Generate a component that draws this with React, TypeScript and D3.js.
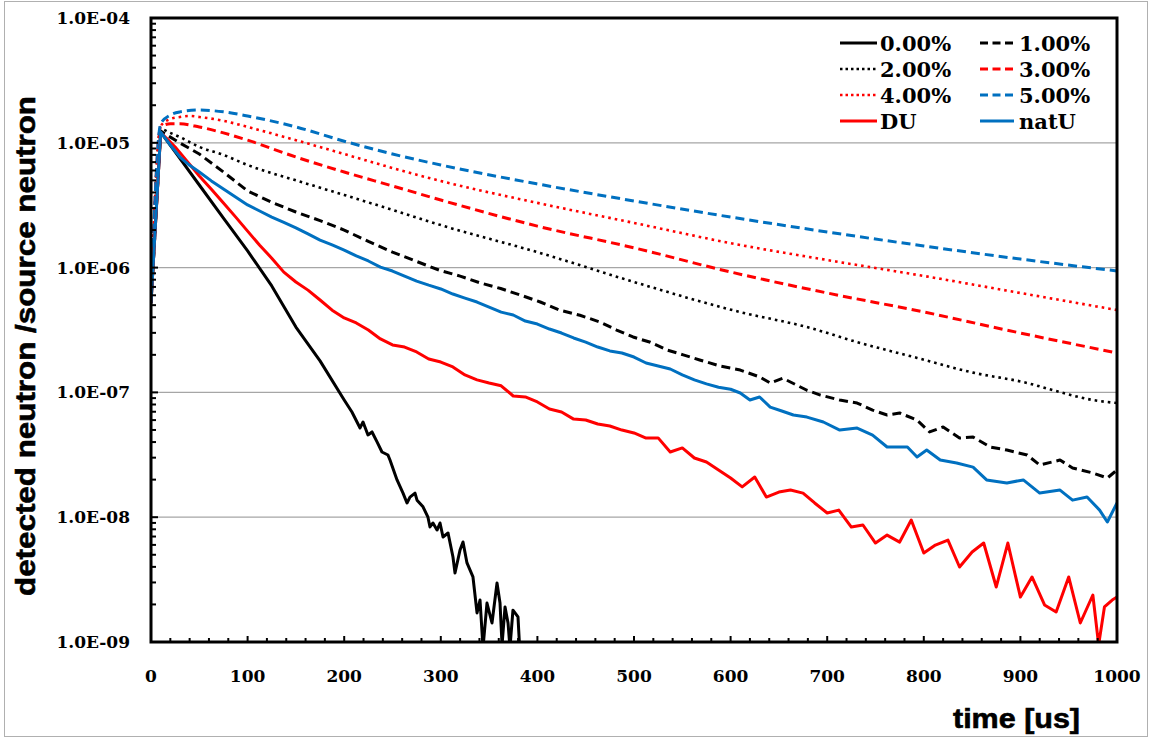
import React from 'react';
import * as d3 from 'd3';

const W = 1151;
const H = 738;
const PLOT = { left: 151, right: 1117, top: 18, bottom: 642 };

const yTickValues = [1e-9, 1e-8, 1e-7, 1e-6, 1e-5, 1e-4];
const yTickLabels = ['1.0E-09', '1.0E-08', '1.0E-07', '1.0E-06', '1.0E-05', '1.0E-04'];
const xTickValues = [0, 100, 200, 300, 400, 500, 600, 700, 800, 900, 1000];
const xTickLabels = ['0', '100', '200', '300', '400', '500', '600', '700', '800', '900', '1000'];

// 0.00%
const p0T = [0, 10, 25, 50, 75, 100, 125, 150, 175, 200, 208, 216.4, 219.5, 224.6, 228.8, 234, 239.1, 245.3, 247.4, 254.7, 260.9, 265, 268.1, 273.3, 275.4, 281.6, 286.7, 288.8, 291.9, 296.1, 299.2, 302.3, 307.5, 312.6, 314.7, 319.9, 323, 327.1, 333.3, 337.5, 340.6, 343.7, 347.8, 353, 358.2, 361.3, 363.4, 366.5, 369.6, 371.6, 374.7, 379.9, 382];
const p0V = [5.2e-7, 1.22e-5, 8.44e-6, 4.59e-6, 2.49e-6, 1.36e-6, 7.13e-7, 3.34e-7, 1.79e-7, 8.69e-8, 6.97e-8, 5.19e-8, 5.79e-8, 4.56e-8, 4.82e-8, 4.01e-8, 3.33e-8, 3.15e-8, 2.87e-8, 1.99e-8, 1.56e-8, 1.30e-8, 1.45e-8, 1.56e-8, 1.37e-8, 1.21e-8, 1.00e-8, 8.35e-9, 8.99e-9, 7.89e-9, 8.99e-9, 6.94e-9, 7.47e-9, 4.80e-9, 3.57e-9, 5.46e-9, 6.33e-9, 4.30e-9, 3.32e-9, 1.71e-9, 2.17e-9, 9e-10, 2.05e-9, 1.42e-9, 2.97e-9, 2.05e-9, 9.5e-10, 1.91e-9, 1.42e-9, 9e-10, 1.80e-9, 1.59e-9, 8e-10];

// 1.00%
const p1T = [0, 10, 20, 30, 50, 75, 100, 125, 150, 175, 200, 225, 250, 275, 299, 320, 341, 362, 382, 403, 423, 444, 465, 482, 499, 517, 534, 551, 568, 590, 610, 630, 641, 654, 679, 693, 713, 731, 747, 762, 775, 793, 806, 820, 837, 851, 869, 886, 907, 920, 941, 954, 975, 990, 1000];
const p1V = [5.2e-7, 1.24e-5, 1.11e-5, 9.96e-6, 8.13e-6, 5.83e-6, 4.11e-6, 3.34e-6, 2.79e-6, 2.38e-6, 2.00e-6, 1.62e-6, 1.33e-6, 1.12e-6, 9.5e-7, 8.55e-7, 7.53e-7, 6.80e-7, 6.04e-7, 5.30e-7, 4.57e-7, 4.15e-7, 3.66e-7, 3.16e-7, 2.78e-7, 2.52e-7, 2.19e-7, 2.00e-7, 1.82e-7, 1.62e-7, 1.51e-7, 1.33e-7, 1.19e-7, 1.30e-7, 1.04e-7, 9.52e-8, 8.69e-8, 8.22e-8, 7.21e-8, 6.59e-8, 6.84e-8, 6.00e-8, 4.82e-8, 5.28e-8, 4.31e-8, 4.39e-8, 3.65e-8, 3.45e-8, 3.15e-8, 2.62e-8, 2.87e-8, 2.48e-8, 2.26e-8, 2.06e-8, 2.39e-8];

// 2.00%
const p2T = [0, 10, 20, 30, 50, 75, 100, 150, 200, 250, 300, 400, 500, 610, 679, 731, 793, 851, 907, 938, 975, 1000];
const p2V = [5.2e-7, 1.29e-5, 1.20e-5, 1.11e-5, 9.27e-6, 8.0e-6, 6.64e-6, 5.0e-6, 3.82e-6, 2.90e-6, 2.19e-6, 1.33e-6, 7.67e-7, 4.40e-7, 3.34e-7, 2.53e-7, 1.89e-7, 1.44e-7, 1.19e-7, 1.02e-7, 8.69e-8, 8.22e-8];

// 3.00%
const p3T = [0, 10, 20, 30, 50, 75, 100, 150, 200, 250, 300, 400, 500, 600, 700, 800, 900, 1000];
const p3V = [5.2e-7, 1.34e-5, 1.42e-5, 1.42e-5, 1.34e-5, 1.20e-5, 1.05e-5, 7.69e-6, 5.83e-6, 4.51e-6, 3.48e-6, 2.15e-6, 1.44e-6, 9.22e-7, 6.26e-7, 4.41e-7, 2.99e-7, 2.07e-7];

// 4.00%
const p4T = [0, 10, 20, 30, 40, 50, 75, 100, 150, 200, 250, 300, 400, 500, 600, 700, 800, 900, 1000];
const p4V = [5.2e-7, 1.36e-5, 1.55e-5, 1.61e-5, 1.64e-5, 1.61e-5, 1.50e-5, 1.34e-5, 1.05e-5, 8.13e-6, 6.28e-6, 4.94e-6, 3.30e-6, 2.28e-6, 1.57e-6, 1.15e-6, 8.57e-7, 6.26e-7, 4.57e-7];

// 5.00%
const p5T = [0, 10, 20, 30, 50, 75, 100, 150, 200, 250, 300, 400, 500, 600, 700, 800, 900, 1000];
const p5V = [5.2e-7, 1.42e-5, 1.67e-5, 1.77e-5, 1.83e-5, 1.77e-5, 1.64e-5, 1.34e-5, 1.03e-5, 8.13e-6, 6.64e-6, 4.68e-6, 3.42e-6, 2.54e-6, 1.93e-6, 1.49e-6, 1.17e-6, 9.4e-7];

// DU
const duT = [0, 10, 17.5, 25, 37.5, 50, 62.5, 75, 87.5, 100, 112.5, 125, 137.5, 150, 162.5, 175, 187.5, 200, 212.5, 225, 237.5, 250, 262.5, 275, 287.5, 300, 312.5, 325, 337.5, 350, 362.5, 375, 387.5, 400, 412.5, 425, 437.5, 450, 462.5, 475, 487.5, 500, 512.5, 525, 537.5, 550, 562.5, 575, 587.5, 600, 612, 625, 637, 650, 662, 675, 687, 700, 712, 725, 737, 750, 762, 775, 787, 800, 812, 825, 837, 850, 862, 875, 887, 900, 912, 925, 937, 950, 962, 975, 981, 987, 995, 1000];
const duV = [5.2e-7, 1.20e-5, 1.06e-5, 9.25e-6, 7.1e-6, 5.42e-6, 4.25e-6, 3.30e-6, 2.55e-6, 1.96e-6, 1.51e-6, 1.19e-6, 9.2e-7, 7.67e-7, 6.6e-7, 5.50e-7, 4.56e-7, 3.95e-7, 3.60e-7, 3.16e-7, 2.68e-7, 2.40e-7, 2.31e-7, 2.11e-7, 1.85e-7, 1.75e-7, 1.60e-7, 1.38e-7, 1.26e-7, 1.19e-7, 1.13e-7, 9.36e-8, 9.19e-8, 8.38e-8, 7.36e-8, 6.97e-8, 6.11e-8, 6.01e-8, 5.58e-8, 5.38e-8, 4.99e-8, 4.73e-8, 4.31e-8, 4.32e-8, 3.33e-8, 3.59e-8, 2.98e-8, 2.77e-8, 2.39e-8, 2.06e-8, 1.75e-8, 2.10e-8, 1.45e-8, 1.59e-8, 1.65e-8, 1.56e-8, 1.30e-8, 1.08e-8, 1.14e-8, 8.34e-9, 8.66e-9, 6.21e-9, 7.19e-9, 6.32e-9, 9.50e-9, 5.16e-9, 5.98e-9, 6.56e-9, 3.99e-9, 5.26e-9, 6.21e-9, 2.76e-9, 6.21e-9, 2.29e-9, 3.32e-9, 1.98e-9, 1.74e-9, 3.32e-9, 1.42e-9, 2.38e-9, 9.5e-10, 1.91e-9, 2.17e-9, 2.29e-9];

// natU
const nuT = [0, 10, 20, 30, 40, 50, 62.5, 75, 87.5, 100, 112.5, 125, 137.5, 150, 162.5, 175, 187.5, 200, 212.5, 225, 237.5, 250, 262.5, 275, 287.5, 300, 312.5, 325, 337.5, 350, 362.5, 375, 387.5, 400, 412.5, 425, 437.5, 450, 462.5, 475, 487.5, 500, 512.5, 525, 537.5, 550, 562.5, 575, 587.5, 600, 610, 620, 630, 641, 653, 665, 679, 696, 713, 731, 747, 762, 783, 793, 803, 817, 834, 851, 865, 886, 903, 920, 941, 954, 969, 982, 990, 1000];
const nuV = [5.2e-7, 1.22e-5, 9.60e-6, 7.69e-6, 6.6e-6, 5.83e-6, 4.95e-6, 4.27e-6, 3.68e-6, 3.18e-6, 2.84e-6, 2.54e-6, 2.30e-6, 2.08e-6, 1.86e-6, 1.66e-6, 1.52e-6, 1.38e-6, 1.24e-6, 1.13e-6, 1.01e-6, 9.39e-7, 8.55e-7, 7.80e-7, 7.23e-7, 6.74e-7, 6.14e-7, 5.70e-7, 5.30e-7, 4.83e-7, 4.40e-7, 4.17e-7, 3.73e-7, 3.53e-7, 3.22e-7, 2.99e-7, 2.73e-7, 2.53e-7, 2.31e-7, 2.15e-7, 2.07e-7, 1.92e-7, 1.72e-7, 1.63e-7, 1.54e-7, 1.38e-7, 1.26e-7, 1.17e-7, 1.10e-7, 1.06e-7, 9.89e-8, 8.69e-8, 9.19e-8, 7.63e-8, 7.10e-8, 6.59e-8, 6.34e-8, 5.79e-8, 4.99e-8, 5.18e-8, 4.55e-8, 3.65e-8, 3.65e-8, 3.04e-8, 3.45e-8, 2.87e-8, 2.72e-8, 2.52e-8, 1.99e-8, 1.88e-8, 1.99e-8, 1.56e-8, 1.65e-8, 1.37e-8, 1.45e-8, 1.14e-8, 9.16e-9, 1.30e-8];

const RED = '#ff0000';
const BLUE = '#0070c0';
const BLACK = '#000000';

const seriesList = [
  { name: '0.00%', t: p0T, v: p0V, color: BLACK, kind: 'solid', smooth: false },
  { name: '1.00%', t: p1T, v: p1V, color: BLACK, kind: 'dash', smooth: false },
  { name: '2.00%', t: p2T, v: p2V, color: BLACK, kind: 'dot', smooth: true },
  { name: '3.00%', t: p3T, v: p3V, color: RED, kind: 'dash', smooth: true },
  { name: '4.00%', t: p4T, v: p4V, color: RED, kind: 'dot', smooth: true },
  { name: '5.00%', t: p5T, v: p5V, color: BLUE, kind: 'dash', smooth: true },
  { name: 'DU', t: duT, v: duV, color: RED, kind: 'solid', smooth: false },
  { name: 'natU', t: nuT, v: nuV, color: BLUE, kind: 'solid', smooth: false },
];

function strokeProps(kind: string, legend = false) {
  if (kind === 'dash') return { strokeWidth: 3, strokeDasharray: legend ? '8,4.5' : '9,5' };
  if (kind === 'dot') return { strokeWidth: 2.6, strokeDasharray: legend ? '2.5,3' : '2.6,4' };
  return { strokeWidth: 3 };
}

const serif = '"DejaVu Serif", "Liberation Serif", serif';
const sans = '"Liberation Sans", Arial, sans-serif';

export default function App() {
  const x = d3.scaleLinear().domain([0, 1000]).range([PLOT.left, PLOT.right]);
  const y = d3.scaleLog().domain([1e-9, 1e-4]).range([PLOT.bottom, PLOT.top]);
  const lineSmooth = d3
    .line<[number, number]>()
    .x((d) => x(d[0]))
    .y((d) => y(d[1]))
    .curve(d3.curveMonotoneX);
  const lineRaw = d3
    .line<[number, number]>()
    .x((d) => x(d[0]))
    .y((d) => y(d[1]));

  const yMinor: number[] = [];
  for (let e = -9; e < -4; e++) {
    for (let k = 2; k <= 9; k++) yMinor.push(k * Math.pow(10, e));
  }
  const xMinor = d3.range(0, 1001, 20).filter((v) => v % 100 !== 0);

  const legendCols = [
    { lx1: 840, lx2: 877, tx: 880 },
    { lx1: 980, lx2: 1014, tx: 1019 },
  ];
  const legendRows = [43, 69, 95, 121];

  return (
    <svg
      width={W}
      height={H}
      style={{ position: 'absolute', left: 0, top: 0, background: '#fff' }}
    >
      <rect x={0} y={0} width={W} height={H} fill="#fff" />
      <rect x={4.5} y={1.5} width={1143} height={735} fill="none" stroke="#b0b0b0" strokeWidth={1} />
      <defs>
        <clipPath id="plotclip">
          <rect x={PLOT.left} y={PLOT.top} width={PLOT.right - PLOT.left} height={PLOT.bottom - PLOT.top} />
        </clipPath>
      </defs>

      {yTickValues.slice(1, -1).map((v) => (
        <line key={'g' + v} x1={PLOT.left} x2={PLOT.right} y1={y(v)} y2={y(v)} stroke="#a6a6a6" strokeWidth={1.2} />
      ))}

      <g clipPath="url(#plotclip)">
        {seriesList.map((s) => {
          const pts = s.t.map((t, i) => [t, s.v[i]] as [number, number]);
          const gen = s.smooth ? lineSmooth : lineRaw;
          return (
            <path
              key={s.name}
              d={gen(pts) || ''}
              fill="none"
              stroke={s.color}
              strokeLinejoin="round"
              {...strokeProps(s.kind)}
            />
          );
        })}
      </g>

      {yTickValues.map((v) => (
        <line key={'yt' + v} x1={PLOT.left} x2={PLOT.left + 7} y1={y(v)} y2={y(v)} stroke="#000" strokeWidth={2} />
      ))}
      {yMinor.map((v) => (
        <line key={'ym' + v} x1={PLOT.left} x2={PLOT.left + 5} y1={y(v)} y2={y(v)} stroke="#000" strokeWidth={2} />
      ))}
      {xTickValues.map((v) => (
        <line key={'xt' + v} x1={x(v)} x2={x(v)} y1={PLOT.bottom} y2={PLOT.bottom - 6} stroke="#000" strokeWidth={2} />
      ))}
      {xMinor.map((v) => (
        <line key={'xm' + v} x1={x(v)} x2={x(v)} y1={PLOT.bottom} y2={PLOT.bottom - 4} stroke="#000" strokeWidth={2} />
      ))}

      <rect
        x={PLOT.left}
        y={PLOT.top}
        width={PLOT.right - PLOT.left}
        height={PLOT.bottom - PLOT.top}
        fill="none"
        stroke="#000"
        strokeWidth={3}
      />

      {yTickValues.map((v, i) => (
        <text
          key={'yl' + v}
          x={130}
          y={y(v) + 6}
          textAnchor="end"
          fontFamily={serif}
          fontWeight="bold"
          fontSize={17}
          fill="#000"
        >
          {yTickLabels[i]}
        </text>
      ))}
      {xTickValues.map((v, i) => (
        <text
          key={'xl' + v}
          x={x(v)}
          y={682}
          textAnchor="middle"
          fontFamily={serif}
          fontWeight="bold"
          fontSize={17}
          fill="#000"
        >
          {xTickLabels[i]}
        </text>
      ))}

      <text
        x={953}
        y={728}
        fontFamily={sans}
        fontWeight="bold"
        fontSize={27}
        textLength={127}
        lengthAdjust="spacingAndGlyphs"
        fill="#000"
        stroke="#000"
        strokeWidth={0.6}
      >
        time [us]
      </text>
      <text
        transform="translate(35,596) rotate(-90)"
        x={0}
        y={0}
        fontFamily={sans}
        fontWeight="bold"
        fontSize={27}
        textLength={500}
        lengthAdjust="spacingAndGlyphs"
        fill="#000"
        stroke="#000"
        strokeWidth={0.6}
      >
        detected neutron /source neutron
      </text>

      {seriesList.map((s, i) => {
        const col = legendCols[i % 2];
        const row = legendRows[Math.floor(i / 2)];
        return (
          <g key={'lg' + s.name}>
            <line x1={col.lx1} x2={col.lx2} y1={row} y2={row} stroke={s.color} {...strokeProps(s.kind, true)} />
            <text
              x={col.tx}
              y={row + 8}
              fontFamily={serif}
              fontWeight="bold"
              fontSize={21}
              fill="#000"
            >
              {s.name}
            </text>
          </g>
        );
      })}
    </svg>
  );
}
